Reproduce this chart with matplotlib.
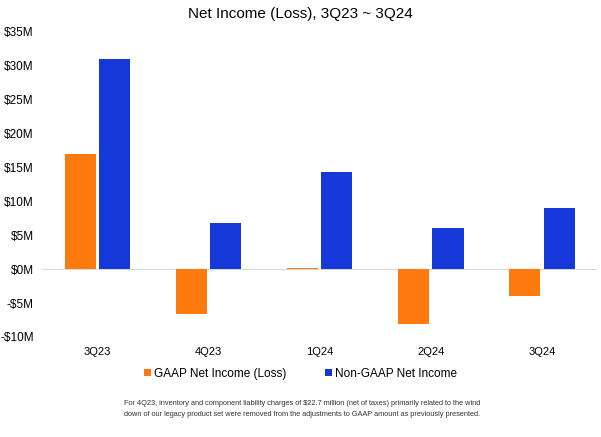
import numpy as np
import matplotlib
matplotlib.use("Agg")
import matplotlib.pyplot as plt

quarters = ["3Q23", "4Q23", "1Q24", "2Q24", "3Q24"]
gaap = [17.0, -6.6, 0.2, -8.1, -4.0]
non_gaap = [31.0, 6.8, 14.4, 6.0, 9.0]
yticks = [-10, -5, 0, 5, 10, 15, 20, 25, 30, 35]
ytick_labels = ["-$10M", "-$5M", "$0M", "$5M", "$10M", "$15M", "$20M", "$25M", "$30M", "$35M"]

orange = "#FF7A0E"
blue = "#1638D8"

plt.rcParams['font.family'] = ['Liberation Sans', 'DejaVu Sans']

fig = plt.figure(figsize=(6.01, 4.37), dpi=100)
ax = fig.add_axes([0.07, 0.229, 0.924, 0.698])

x = np.arange(len(quarters))
w = 0.28
gap = 0.015
ax.bar(x - w/2 - gap, gaap, width=w, color=orange, label="GAAP Net Income (Loss)")
ax.bar(x + w/2 + gap, non_gaap, width=w, color=blue, label="Non-GAAP Net Income")
ax.axhline(0, color="#d9d9d9", lw=0.8, zorder=0)

ax.set_xlim(-0.5, len(quarters) - 0.5)
ax.set_ylim(-10, 35)
ax.set_yticks(yticks)
ax.set_yticklabels(ytick_labels, fontsize=8.5)
ax.set_xticks(x)
ax.set_xticklabels(quarters, fontsize=8)
ax.tick_params(axis="both", length=0)
ax.tick_params(axis="x", pad=7)
ax.tick_params(axis="y", pad=6)
for s in ax.spines.values():
    s.set_visible(False)

fig.text(0.5, 0.968, "Net Income (Loss), 3Q23 ~ 3Q24", ha="center", va="center", fontsize=11)

fig.legend(loc="center", bbox_to_anchor=(0.5, 0.145), ncol=2, frameon=False,
           fontsize=8.5, handlelength=0.6, handleheight=0.6, handletextpad=0.3,
           columnspacing=3.2)

fig.text(0.503, 0.063,
         "For 4Q23, inventory and component liability charges of $22.7 million (net of taxes) primarily related to the wind\n"
         "down of our legacy product set were removed from the adjustments to GAAP amount as previously presented.",
         ha="center", va="center", fontsize=5.3, color="#333333", linespacing=1.8)

fig.savefig("out.png", dpi=100)
